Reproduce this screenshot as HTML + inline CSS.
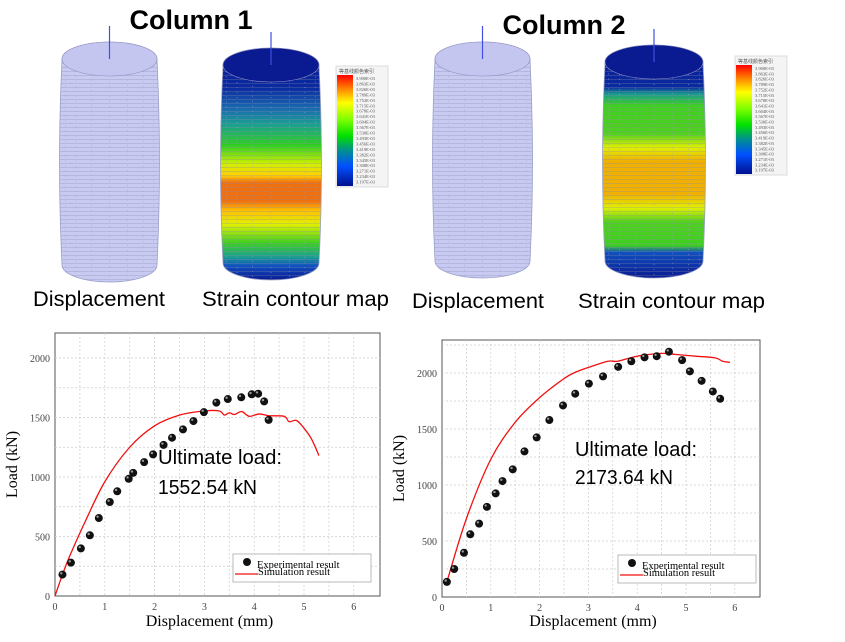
<!DOCTYPE html>
<html><head><meta charset="utf-8"><style>
html,body{margin:0;padding:0;background:#fff}
svg{display:block}
.t{font-family:"Liberation Sans",sans-serif}
.s{font-family:"Liberation Serif",serif}
</style></head><body>
<svg id="c" width="845" height="642" xmlns="http://www.w3.org/2000/svg">
<defs>
<linearGradient id="g1" x1="0" y1="0" x2="0" y2="1">
<stop offset="0" stop-color="#0a1a90"/><stop offset="0.17" stop-color="#0a2aa0"/>
<stop offset="0.26" stop-color="#1a6ab0"/><stop offset="0.33" stop-color="#1aa090"/>
<stop offset="0.42" stop-color="#30d020"/><stop offset="0.5" stop-color="#d0f000"/>
<stop offset="0.55" stop-color="#ffd000"/><stop offset="0.58" stop-color="#f07010"/>
<stop offset="0.66" stop-color="#f07010"/><stop offset="0.7" stop-color="#ffc000"/>
<stop offset="0.76" stop-color="#e0f000"/><stop offset="0.84" stop-color="#40d020"/>
<stop offset="0.9" stop-color="#1aa090"/><stop offset="0.94" stop-color="#1050c0"/>
<stop offset="1" stop-color="#0a1a90"/></linearGradient>
<linearGradient id="g2" x1="0" y1="0" x2="0" y2="1">
<stop offset="0" stop-color="#0a1a90"/><stop offset="0.18" stop-color="#0a2aa0"/>
<stop offset="0.21" stop-color="#1a9a90"/><stop offset="0.26" stop-color="#40d020"/>
<stop offset="0.38" stop-color="#50d020"/><stop offset="0.44" stop-color="#e0f000"/>
<stop offset="0.5" stop-color="#f0b000"/><stop offset="0.64" stop-color="#f0b000"/>
<stop offset="0.7" stop-color="#e0f000"/><stop offset="0.76" stop-color="#50d020"/>
<stop offset="0.86" stop-color="#40d020"/><stop offset="0.89" stop-color="#1050c0"/>
<stop offset="1" stop-color="#0a1a90"/></linearGradient>
<linearGradient id="leg" x1="0" y1="0" x2="0" y2="1">
<stop offset="0" stop-color="#ff0000"/><stop offset="0.12" stop-color="#ff8000"/>
<stop offset="0.25" stop-color="#ffff00"/><stop offset="0.4" stop-color="#80ff00"/>
<stop offset="0.55" stop-color="#00e000"/><stop offset="0.68" stop-color="#009090"/>
<stop offset="0.82" stop-color="#0050ff"/><stop offset="1" stop-color="#001090"/></linearGradient>
<pattern id="ln" width="4" height="4" patternUnits="userSpaceOnUse"><line x1="0" y1="3.5" x2="4" y2="3.5" stroke="#8888aa" stroke-width="0.6" opacity="0.5"/></pattern>
</defs>
<text x="191" y="29" text-anchor="middle" class="t" font-size="27" font-weight="bold">Column 1</text>
<text x="564" y="34" text-anchor="middle" class="t" font-size="27" font-weight="bold">Column 2</text>
<text x="33" y="306" class="t" font-size="21" textLength="132" lengthAdjust="spacingAndGlyphs">Displacement</text>
<text x="202" y="306" class="t" font-size="21" textLength="187" lengthAdjust="spacingAndGlyphs">Strain contour map</text>
<text x="412" y="308" class="t" font-size="21" textLength="132" lengthAdjust="spacingAndGlyphs">Displacement</text>
<text x="578" y="308" class="t" font-size="21" textLength="187" lengthAdjust="spacingAndGlyphs">Strain contour map</text>
<text x="158" y="464" class="t" font-size="20" textLength="124" lengthAdjust="spacingAndGlyphs">Ultimate load:</text>
<text x="158" y="494" class="t" font-size="20" textLength="99" lengthAdjust="spacingAndGlyphs">1552.54 kN</text>
<text x="575" y="456" class="t" font-size="20" textLength="122" lengthAdjust="spacingAndGlyphs">Ultimate load:</text>
<text x="575" y="484" class="t" font-size="20" textLength="98" lengthAdjust="spacingAndGlyphs">2173.64 kN</text>
</svg>
<script>
var S=document.getElementById('c'),NS='http://www.w3.org/2000/svg';
function A(t,a,txt){var e=document.createElementNS(NS,t);for(var k in a)e.setAttribute(k,a[k]);if(txt!=null)e.textContent=txt;S.appendChild(e);return e;}
function cyl(x0,x1,y0,y1,fill){
 var cx=(x0+x1)/2,rx=(x1-x0)/2,ry=17,b=5;
 var d='M'+x0+','+(y0+ry)+' Q'+(x0-b)+','+((y0+y1)/2)+' '+x0+','+(y1-ry)+' A'+rx+','+ry+' 0 0 0 '+x1+','+(y1-ry)+' Q'+(x1+b)+','+((y0+y1)/2)+' '+x1+','+(y0+ry)+' A'+rx+','+ry+' 0 0 0 '+x0+','+(y0+ry)+'Z';
 A('path',{d:d,fill:fill,stroke:'#9aa0c8','stroke-width':0.8});
 A('path',{d:d,fill:'url(#ln)'});
 A('ellipse',{cx:cx,cy:y0+ry,rx:rx,ry:ry,fill:fill=='#c8caf2'?'#c4c6f0':'#0a1a90',stroke:'#9090c0','stroke-width':0.6});
 for(var i=1;i<8;i++){var xx=x0+rx*(1-Math.cos(i*Math.PI/8));A('line',{x1:xx,y1:y0+ry+Math.sin(i*Math.PI/8)*ry,x2:xx,y2:y1-ry+Math.sin(i*Math.PI/8)*ry,stroke:'#a0a0d0','stroke-width':0.6,'stroke-dasharray':'1,4',opacity:0.9});}
 A('line',{x1:cx,y1:y0-16,x2:cx,y2:y0+ry,stroke:'#4050e0','stroke-width':1.2});
}
cyl(62,157,42,282,'#c8caf2');
cyl(223,319,48,280,'url(#g1)');
cyl(435,530,42,278,'#c8caf2');
cyl(605,703,45,278,'url(#g2)');
function legend(x,y,h){A('rect',{x:x,y:y,width:52,height:h,fill:'#f4f4f4',stroke:'#ddd'});A('rect',{x:x+1,y:y+9,width:16,height:h-10,fill:'url(#leg)'});
 for(var i=0;i<20;i++)A('text',{x:x+20,y:y+14+i*(h-12)/20,'font-size':4.5,fill:'#555',class:'s'},'3.'+(900-i*37)+'E-03');
 A('text',{x:x+3,y:y+7,'font-size':5,fill:'#555',class:'t'},'等基线颜色索引');}
legend(336,66,121);legend(735,56,119);
function smooth(P){var d='M'+P[0][0]+','+P[0][1];for(var i=0;i<P.length-1;i++){var p0=P[i-1]||P[i],p1=P[i],p2=P[i+1],p3=P[i+2]||p2;
 d+=' C'+(p1[0]+(p2[0]-p0[0])/6)+','+(p1[1]+(p2[1]-p0[1])/6)+' '+(p2[0]-(p3[0]-p1[0])/6)+','+(p2[1]-(p3[1]-p1[1])/6)+' '+p2[0]+','+p2[1];}return d;}
function chart(o){
 var X=function(v){return o.x0+v*o.sx},Y=function(v){return o.y0-v*o.sy};
 A('rect',{x:o.L,y:o.T,width:o.R-o.L,height:o.y0-o.T,fill:'#fff',stroke:'#555','stroke-width':1});
 for(var v=0.5;X(v)<o.R-2;v+=0.5)A('line',{x1:X(v),y1:o.T,x2:X(v),y2:o.y0,stroke:'#ccc','stroke-dasharray':'2,2','stroke-width':0.7});
 for(var v=250;Y(v)>o.T+2;v+=250)A('line',{x1:o.L,y1:Y(v),x2:o.R,y2:Y(v),stroke:'#ccc','stroke-dasharray':'2,2','stroke-width':0.7});
 for(var i=0;i<=6;i++)A('text',{x:X(i),y:o.y0+14,'text-anchor':'middle','font-size':10,fill:'#444',class:'s'},i);
 for(var v=0;v<=2000;v+=500)A('text',{x:o.L-5,y:Y(v)+4,'text-anchor':'end','font-size':10,fill:'#444',class:'s'},v);
 A('text',{x:(o.L+o.R)/2-8,y:626,'text-anchor':'middle','font-size':16,class:'s'},'Displacement (mm)');
 A('text',{transform:'translate('+(o.L-38)+','+((o.T+o.y0)/2)+') rotate(-90)','text-anchor':'middle','font-size':16,class:'s'},'Load (kN)');
 A('path',{d:smooth(o.sim.map(function(p){return [X(p[0]),Y(p[1])]})),fill:'none',stroke:'#f01010','stroke-width':1.3});
 o.exp.forEach(function(p){A('circle',{cx:X(p[0]),cy:Y(p[1]),r:4,fill:'#111'});A('circle',{cx:X(p[0])-1.2,cy:Y(p[1])-1.3,r:1.2,fill:'#999'});});
 var lx=o.lx,ly=o.ly;A('rect',{x:lx,y:ly,width:138,height:28,fill:'#fff',stroke:'#aaa','stroke-width':0.8});
 A('circle',{cx:lx+14,cy:ly+8,r:4,fill:'#111'});
 A('text',{x:lx+24,y:ly+14,'font-size':10.5,class:'s'},'Experimental result');
 A('line',{x1:lx+2,y1:ly+20,x2:lx+25,y2:ly+20,stroke:'#f01010','stroke-width':1.3});
 A('text',{x:lx+25,y:ly+21,'font-size':10.5,class:'s'},'Simulation result');
}
chart({L:55,R:380,T:333,x0:55,y0:596,sx:49.8,sy:0.119,lx:233,ly:554,
exp:[[0.15,180],[0.32,280],[0.52,400],[0.7,510],[0.88,655],[1.1,790],[1.25,880],[1.48,985],[1.57,1035],[1.79,1125],[1.97,1190],[2.18,1270],[2.35,1330],[2.57,1400],[2.78,1470],[2.99,1545],[3.24,1625],[3.47,1655],[3.74,1670],[3.95,1695],[4.08,1700],[4.2,1635],[4.29,1480]],
sim:[[0,0],[0.15,180],[0.3,340],[0.6,620],[1,960],[1.5,1250],[2,1430],[2.5,1520],[3,1555],[3.3,1555],[3.4,1520],[3.5,1540],[3.6,1525],[3.75,1550],[3.9,1510],[4.1,1530],[4.3,1515],[4.6,1510],[4.7,1465],[4.85,1475],[5,1410],[5.15,1320],[5.3,1180]]});
chart({L:442,R:760,T:340,x0:442,y0:597,sx:48.8,sy:0.112,lx:618,ly:555,
exp:[[0.1,135],[0.25,250],[0.45,395],[0.58,560],[0.76,655],[0.92,805],[1.1,925],[1.24,1035],[1.45,1140],[1.69,1300],[1.94,1425],[2.2,1580],[2.48,1710],[2.73,1815],[3.01,1905],[3.3,1970],[3.61,2055],[3.88,2105],[4.15,2140],[4.4,2150],[4.65,2190],[4.92,2115],[5.08,2015],[5.32,1930],[5.55,1835],[5.7,1770]],
sim:[[0.1,135],[0.5,700],[1,1230],[1.5,1560],[2,1780],[2.5,1950],[2.75,2010],[3,2050],[3.4,2105],[3.6,2105],[4,2150],[4.5,2175],[4.8,2165],[5.2,2150],[5.6,2135],[5.75,2105],[5.9,2095]]});
Array.prototype.slice.call(S.querySelectorAll('text.t')).forEach(function(t){if(t.getAttribute('font-size')>=19)S.appendChild(t)});
</script>
</body></html>
